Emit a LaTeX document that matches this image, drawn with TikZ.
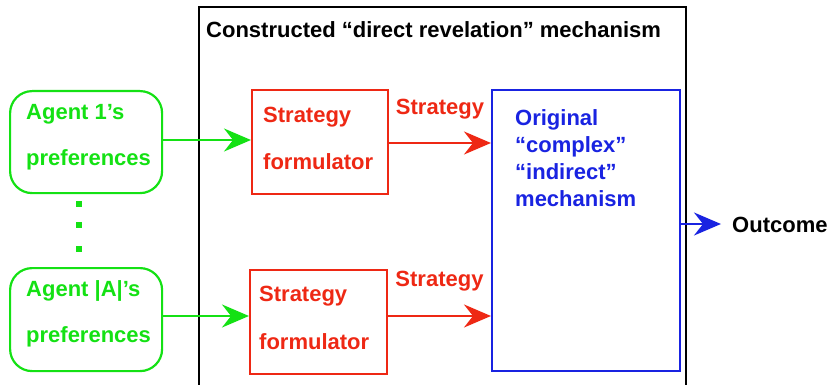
\documentclass[tikz,border=0pt]{standalone}
\usepackage{fontspec}
\setmainfont{Liberation Sans}
\usetikzlibrary{arrows.meta}
\definecolor{grn}{RGB}{20,225,20}
\definecolor{rd}{RGB}{238,40,20}
\definecolor{bl}{RGB}{25,35,225}
\tikzset{
  txt/.style={font=\fontsize{22}{22}\selectfont\bfseries, inner sep=0pt, anchor=west},
  agentbox/.style={draw=grn, line width=2.2pt, rounded corners=22pt},
  formbox/.style={draw=rd, line width=2pt},
  mechbox/.style={draw=bl, line width=1.8pt},
  outerbox/.style={draw=black, line width=1.8pt},
  arr/.style={line width=2pt, -{Stealth[length=27pt,width=23pt,inset=9pt]}},
  dot/.style={fill=grn, minimum size=6pt, inner sep=0pt}
}
\begin{document}
\begin{tikzpicture}[x=1pt,y=-1pt]
\useasboundingbox (0,0) rectangle (830,385);
% outer box
\draw[outerbox] (199,7) rectangle (686,392);
\node[txt, text=black] (title) at (206,30) {Constructed “direct revelation” mechanism};
% agent boxes
\node[agentbox, minimum width=152pt, minimum height=102pt, anchor=north west] (a1) at (9,90) {};
\node[txt, text=grn] (a1t1) at (26,114) {Agent 1’s};
\node[txt, text=grn] (a1t2) at (26,160) {preferences};
\node[agentbox, minimum width=152pt, minimum height=103pt, anchor=north west] (a2) at (9,267) {};
\node[txt, text=grn] (a2t1) at (26,291) {Agent |A|’s};
\node[txt, text=grn] (a2t2) at (26,337) {preferences};
% dots
\node[dot] (d1) at (79,204) {};
\node[dot] (d2) at (79,225) {};
\node[dot] (d3) at (79,249) {};
% formulators
\node[formbox, minimum width=136pt, minimum height=104pt, anchor=north west] (f1) at (251,89) {};
\node[txt, text=rd] (f1t1) at (263,117) {Strategy};
\node[txt, text=rd] (f1t2) at (263,162) {formulator};
\node[formbox, minimum width=137pt, minimum height=104pt, anchor=north west] (f2) at (249,269) {};
\node[txt, text=rd] (f2t1) at (259,296) {Strategy};
\node[txt, text=rd] (f2t2) at (259,342) {formulator};
% mechanism
\node[mechbox, minimum width=188pt, minimum height=281pt, anchor=north west] (m) at (491,89) {};
\node[txt, text=bl, align=left, anchor=north west, font=\fontsize{22}{27}\selectfont\bfseries] (mt) at (515,109) {Original\\“complex”\\“indirect”\\mechanism};
% outcome
\node[txt, text=black] (out) at (732,225) {Outcome};
% arrows
\coordinate (g1s) at (a1.east |- 0,140);
\coordinate (g1e) at (f1.west |- 0,140);
\draw[arr, grn] (g1s) -- (g1e);
\coordinate (g2s) at (a2.east |- 0,316);
\coordinate (g2e) at (f2.west |- 0,316);
\draw[arr, grn] (g2s) -- (g2e);
\coordinate (r1s) at (f1.east |- 0,143);
\coordinate (r1e) at (m.west |- 0,143);
\draw[arr, rd, line width=2.4pt] (r1s) -- (r1e) node[midway, above=34pt, txt, anchor=center, font=\fontsize{22}{22}\selectfont\bfseries] (s1) {Strategy};
\coordinate (r2s) at (f2.east |- 0,316);
\coordinate (r2e) at (m.west |- 0,316);
\draw[arr, rd, line width=2.4pt] (r2s) -- (r2e) node[midway, above=35pt, txt, anchor=center, font=\fontsize{22}{22}\selectfont\bfseries] (s2) {Strategy};
\coordinate (bs) at (m.east |- 0,224);
\coordinate (be) at (721,224);
\draw[arr, bl] (bs) -- (be);
\end{tikzpicture}
\end{document}
